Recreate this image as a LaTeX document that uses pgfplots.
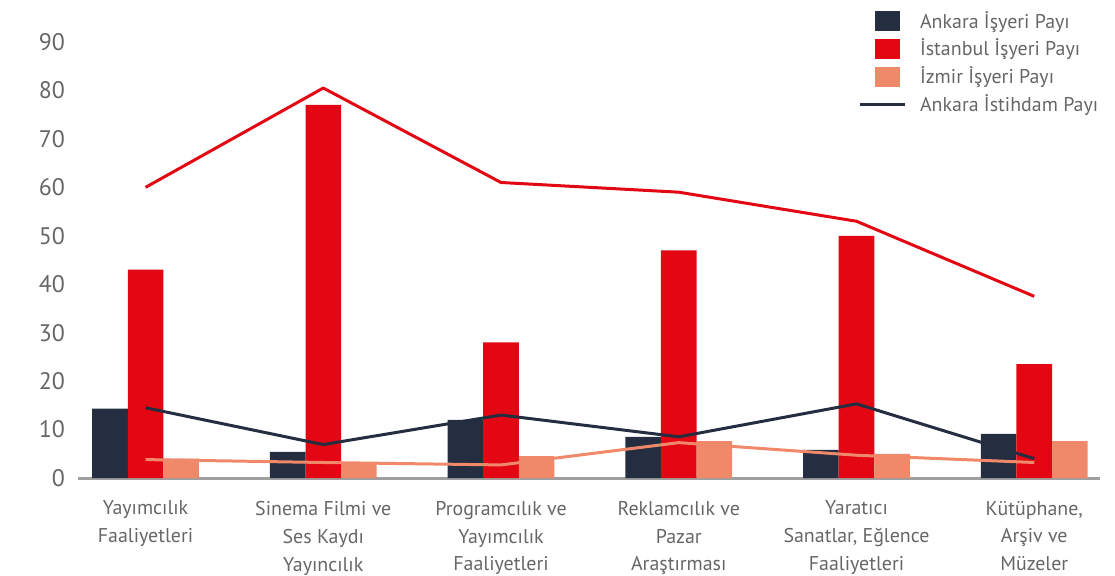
\documentclass[border=0pt]{standalone}
\usepackage{fontspec}
\setmainfont{PT Sans}
\usepackage{pgfplots}
\pgfplotsset{compat=1.18}

\definecolor{ankara}{HTML}{252D40}
\definecolor{istanbul}{HTML}{E30613}
\definecolor{izmir}{HTML}{F0886A}
\definecolor{txt}{HTML}{666666}

\begin{document}
\begin{tikzpicture}
\useasboundingbox (-39bp,-49bp) rectangle (518.5bp,239bp);
\begin{axis}[
    scale only axis,
    width=511bp, height=218bp,
    xmin=-0.38, xmax=5.37,
    ymin=0, ymax=90,
    axis x line*=bottom,
    axis y line*=left,
    y axis line style={draw=none},
    x axis line style={draw=gray!75, line width=1.5bp, -},
    major tick length=0pt,
    ytick={0,10,...,90},
    yticklabel style={font=\fontsize{12}{14}\selectfont, text=txt, xshift=-3bp},
    /pgf/number format/assume math mode=true,
    xtick={0,...,5},
    xticklabels={{Yayımcılık\\Faaliyetleri},
                 {Sinema Filmi ve\\Ses Kaydı\\Yayıncılık},
                 {Programcılık ve\\Yayımcılık\\Faaliyetleri},
                 {Reklamcılık ve\\Pazar\\Araştırması},
                 {Yaratıcı\\Sanatlar, Eğlence\\Faaliyetleri},
                 {Kütüphane,\\Arşiv ve\\Müzeler}},
    xticklabel style={align=center, font=\fontsize{10}{14}\selectfont, text=txt, yshift=-8bp},
    every axis plot/.append style={line join=round},
    legend cell align=left,
    legend style={draw=none, fill=none, at={(0.757,1.09)}, anchor=north west,
        font=\fontsize{10}{12}\selectfont, text=txt, row sep=0bp},
    bar legend/.style={legend image code/.code={\fill (0bp,-5bp) rectangle (12.5bp,5bp); \path (20bp,0bp);}},
]

\addplot[ybar, bar width=0.2, bar shift=-0.2, draw=none, fill=ankara, bar legend]
  coordinates {(0,14.3) (1,5.4) (2,12) (3,8.5) (4,5.8) (5,9.1)};
\addlegendentry{Ankara İşyeri Payı}
\addplot[ybar, bar width=0.2, bar shift=0, draw=none, fill=istanbul, bar legend]
  coordinates {(0,43) (1,77) (2,28) (3,47) (4,50) (5,23.5)};
\addlegendentry{İstanbul İşyeri Payı}
\addplot[ybar, bar width=0.2, bar shift=0.2, draw=none, fill=izmir, bar legend]
  coordinates {(0,4) (1,3.3) (2,4.5) (3,7.6) (4,5) (5,7.6)};
\addlegendentry{İzmir İşyeri Payı}

\addplot[istanbul, line width=1.5bp, forget plot]
  coordinates {(0,60) (1,80.5) (2,61) (3,59) (4,53) (5,37.5)};
\addplot[izmir, line width=1.5bp, forget plot]
  coordinates {(0,3.8) (1,3.2) (2,2.7) (3,7.3) (4,4.7) (5,3.2)};
\addplot[ankara, line width=1.5bp,
    legend image code/.code={\draw[line width=1.5bp] (-7.5bp,0bp) -- (15bp,0bp); \path (20bp,0bp);}]
  coordinates {(0,14.5) (1,6.9) (2,13) (3,8.5) (4,15.3) (5,4)};
\addlegendentry{Ankara İstihdam Payı}

\end{axis}
\end{tikzpicture}
\end{document}
